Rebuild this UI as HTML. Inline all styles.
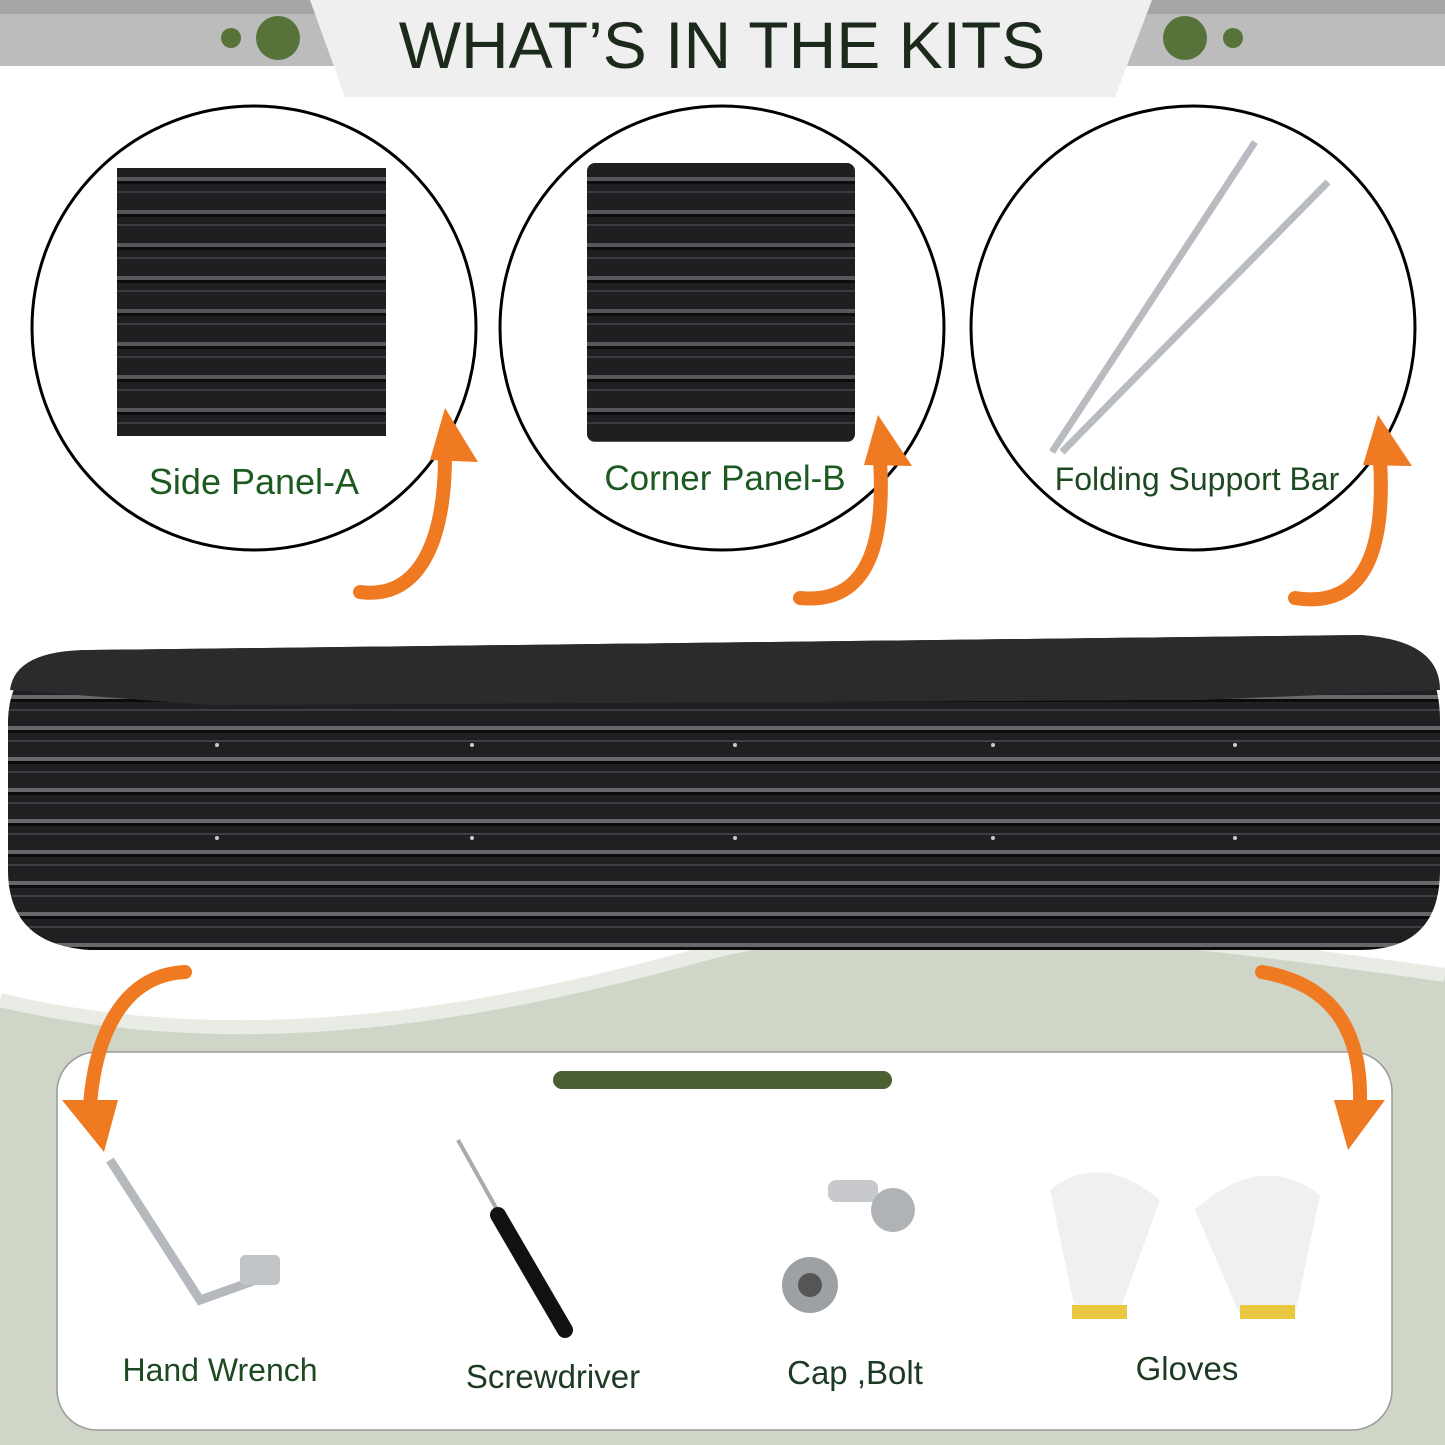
<!DOCTYPE html>
<html><head><meta charset="utf-8"><style>
html,body{margin:0;padding:0;background:#fff}
svg{display:block}
text{font-family:"Liberation Sans",sans-serif}
</style></head><body>
<svg width="1445" height="1445" viewBox="0 0 1445 1445" xmlns="http://www.w3.org/2000/svg">
<defs>
<pattern id="stripes" width="10" height="33" patternUnits="userSpaceOnUse">
<rect width="10" height="33" fill="#1e1f21"/>
<rect y="12" width="10" height="4" fill="#55575a"/>
<rect y="16" width="10" height="3" fill="#0d0d0e"/>
<rect y="26" width="10" height="2" fill="#3a3b3e"/>
</pattern>
<pattern id="bstripes" width="10" height="31" patternUnits="userSpaceOnUse" y="5">
<rect width="10" height="31" fill="#1f2022"/>
<rect y="8" width="10" height="4" fill="#66686b"/>
<rect y="12" width="10" height="3" fill="#0b0b0c"/>
<rect y="22" width="10" height="2" fill="#3d3e41"/>
</pattern>
</defs>
<rect width="1445" height="1445" fill="#fff"/>
<rect x="0" y="0" width="1445" height="14" fill="#a6a6a6"/>
<rect x="0" y="14" width="1445" height="52" fill="#bcbcbc"/>
<polygon points="310,0 1152,0 1115,97 345,97" fill="#efefef"/>
<text x="722" y="68" font-size="66" text-anchor="middle" fill="#1c2a1c">WHAT’S IN THE KITS</text>
<circle cx="231" cy="38" r="10" fill="#58733a"/><circle cx="278" cy="38" r="22" fill="#58733a"/>
<circle cx="1185" cy="38" r="22" fill="#58733a"/><circle cx="1233" cy="38" r="10" fill="#58733a"/>
<path d="M0,1000 C250,1060 500,1010 700,955 C900,900 1200,940 1445,975 L1445,1445 L0,1445z" fill="#cfd6c8"/>
<path d="M0,1000 C250,1060 500,1010 700,955 C900,900 1200,940 1445,975" fill="none" stroke="#e8ece4" stroke-width="14"/>
<circle cx="254" cy="328" r="222" fill="#fff" stroke="#000" stroke-width="3"/>
<circle cx="722" cy="328" r="222" fill="#fff" stroke="#000" stroke-width="3"/>
<circle cx="1193" cy="328" r="222" fill="#fff" stroke="#000" stroke-width="3"/>
<rect x="117" y="168" width="269" height="268" fill="url(#stripes)"/>
<rect x="587" y="163" width="268" height="279" rx="8" fill="url(#stripes)"/>
<line x1="1052" y1="452" x2="1255" y2="142" stroke="#b8bcc0" stroke-width="7"/>
<line x1="1062" y1="452" x2="1328" y2="182" stroke="#b8bcc0" stroke-width="7"/>
<text x="254" y="494" font-size="36" text-anchor="middle" fill="#1d5a22">Side Panel-A</text>
<text x="725" y="490" font-size="35" text-anchor="middle" fill="#1d5a22">Corner Panel-B</text>
<text x="1197" y="490" font-size="32" text-anchor="middle" fill="#1d4a22">Folding Support Bar</text>
<g fill="none" stroke="#ef7a22" stroke-width="14" stroke-linecap="round">
<path d="M360,592 C420,600 445,540 445,455"/>
<path d="M800,598 C870,605 885,540 880,460"/>
<path d="M1295,598 C1370,610 1385,540 1380,460"/>
</g>
<g fill="#ef7a22">
<polygon points="430,460 445,408 478,462"/>
<polygon points="864,465 878,415 912,466"/>
<polygon points="1363,465 1378,415 1412,466"/>
</g>
<path d="M90,650 L1360,635 Q1440,640 1440,720 L1440,870 Q1440,950 1360,950 L90,950 Q8,945 8,870 L8,720 Q10,650 90,650z" fill="url(#bstripes)"/>
<path d="M90,650 L1360,635 Q1440,640 1440,690 L1200,700 L210,705 L10,690 Q15,650 90,650z" fill="#2a2b2d"/>
<g fill="#ccc">
<circle cx="217" cy="745" r="2"/><circle cx="472" cy="745" r="2"/><circle cx="735" cy="745" r="2"/><circle cx="993" cy="745" r="2"/><circle cx="1235" cy="745" r="2"/>
<circle cx="217" cy="838" r="2"/><circle cx="472" cy="838" r="2"/><circle cx="735" cy="838" r="2"/><circle cx="993" cy="838" r="2"/><circle cx="1235" cy="838" r="2"/>
</g>
<rect x="57" y="1052" width="1335" height="378" rx="40" fill="#fff" stroke="#999" stroke-width="1.5"/>
<rect x="553" y="1071" width="339" height="18" rx="9" fill="#4a6033"/>
<g fill="none" stroke="#ef7a22" stroke-width="14" stroke-linecap="round">
<path d="M185,972 C120,975 95,1040 90,1105"/>
<path d="M1262,972 C1340,985 1362,1040 1360,1105"/>
</g>
<g fill="#ef7a22">
<polygon points="62,1100 118,1100 104,1152"/>
<polygon points="1334,1100 1385,1100 1348,1150"/>
</g>
<path d="M110,1160 L200,1300 L270,1275" fill="none" stroke="#b5b8bc" stroke-width="9"/>
<rect x="240" y="1255" width="40" height="30" rx="5" fill="#c2c5c8"/>
<line x1="458" y1="1140" x2="500" y2="1215" stroke="#aaa" stroke-width="4"/>
<line x1="498" y1="1215" x2="565" y2="1330" stroke="#111" stroke-width="16" stroke-linecap="round"/>
<rect x="828" y="1180" width="50" height="22" rx="8" fill="#c7c9cc"/>
<circle cx="893" cy="1210" r="22" fill="#b0b3b6"/>
<circle cx="810" cy="1285" r="28" fill="#9ea1a4"/><circle cx="810" cy="1285" r="12" fill="#555"/>
<path d="M1050,1190 Q1100,1150 1160,1200 L1120,1310 L1075,1310z" fill="#f0f0ee"/>
<path d="M1195,1210 Q1260,1150 1320,1195 L1295,1315 L1240,1315z" fill="#f0f0ee"/>
<rect x="1072" y="1305" width="55" height="14" fill="#e8c840"/>
<rect x="1240" y="1305" width="55" height="14" fill="#e8c840"/>
<text x="220" y="1381" font-size="32" text-anchor="middle" fill="#1d4a22">Hand Wrench</text>
<text x="553" y="1388" font-size="33" text-anchor="middle" fill="#1d3a22">Screwdriver</text>
<text x="855" y="1384" font-size="33" text-anchor="middle" fill="#1d3a22">Cap ,Bolt</text>
<text x="1187" y="1380" font-size="33" text-anchor="middle" fill="#1d3a22">Gloves</text>
</svg>
</body></html>
